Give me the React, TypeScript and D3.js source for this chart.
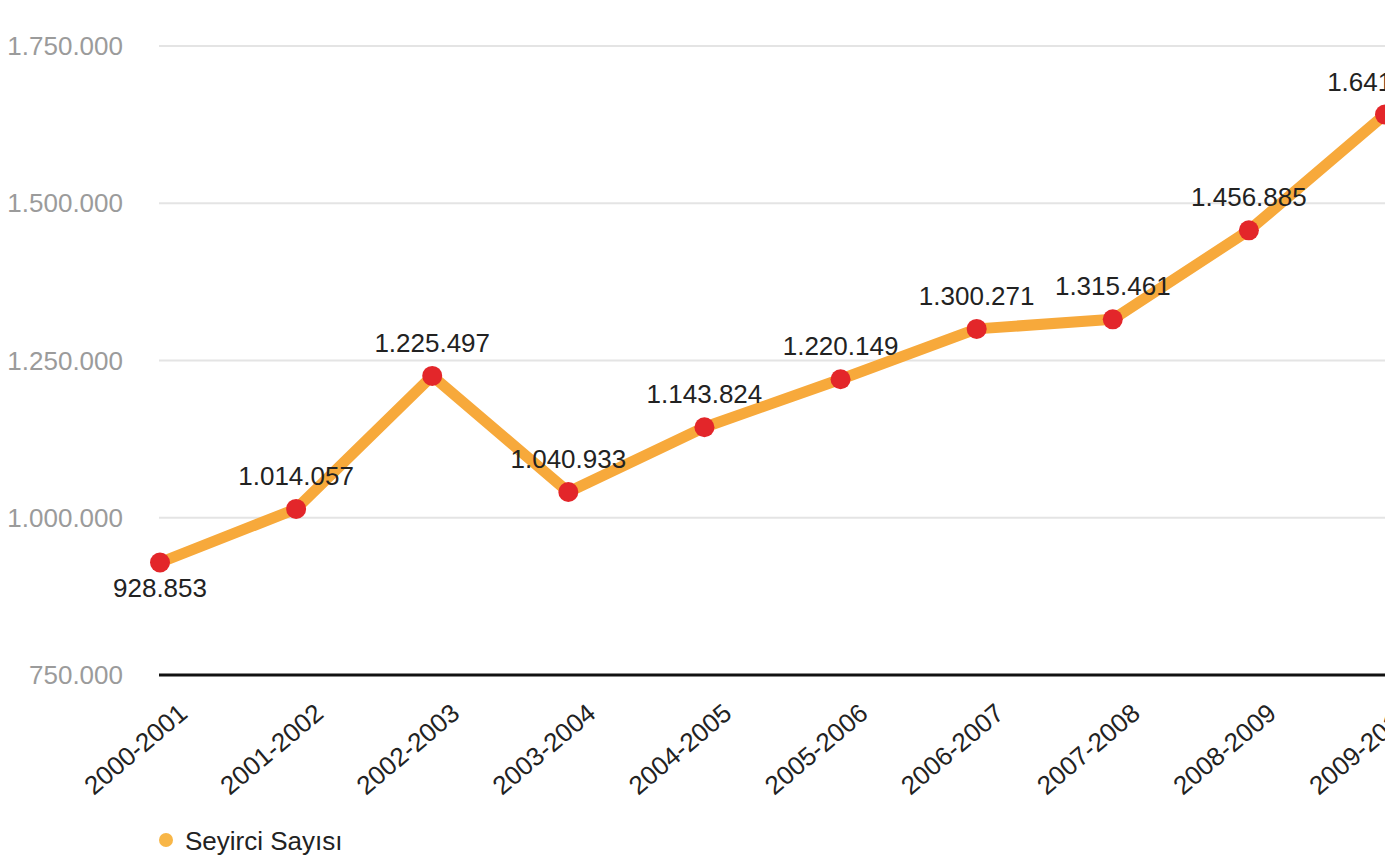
import React from "react";
import * as d3 from "d3";

const seasons = [
  "2000-2001", "2001-2002", "2002-2003", "2003-2004", "2004-2005",
  "2005-2006", "2006-2007", "2007-2008", "2008-2009", "2009-2010",
];
const attendance = [
  928853, 1014057, 1225497, 1040933, 1143824,
  1220149, 1300271, 1315461, 1456885, 1641000,
];
const yTicks = [750000, 1000000, 1250000, 1500000, 1750000];
const seriesName = "Seyirci Sayısı";

const W = 1385;
const H = 861;
const FONT = "'Liberation Sans', Arial, Helvetica, sans-serif";

const fmt = (v: number) => d3.format(",")(v).replace(/,/g, ".");

export default function App() {
  const x = d3.scalePoint<string>().domain(seasons).range([160, 1385]);
  const y = d3.scaleLinear().domain([750000, 1750000]).range([675, 46]);
  const line = d3
    .line<number>()
    .x((_, i) => x(seasons[i]) as number)
    .y((d) => y(d));
  const left = 159;

  return (
    <svg
      width={W}
      height={H}
      style={{ position: "absolute", left: 0, top: 0, display: "block", background: "#fff" }}
      fontFamily={FONT}
    >
      {yTicks.map((t, i) => (
        <g key={t}>
          <line
            x1={left}
            x2={W}
            y1={y(t)}
            y2={y(t)}
            stroke={i === 0 ? "#111" : "#e4e4e4"}
            strokeWidth={i === 0 ? 3 : 2}
          />
          <text
            x={123}
            y={y(t)}
            textAnchor="end"
            dominantBaseline="central"
            fontSize={26}
            fill="#9b9b9b"
          >
            {fmt(t)}
          </text>
        </g>
      ))}
      <path
        d={line(attendance) || ""}
        fill="none"
        stroke="#F7A93B"
        strokeWidth={11}
        strokeLinejoin="round"
      />
      {attendance.map((v, i) => (
        <circle key={i} cx={x(seasons[i])} cy={y(v)} r={10} fill="#E3262A" />
      ))}
      {attendance.map((v, i) => (
        <text
          key={"l" + i}
          x={x(seasons[i])}
          y={y(v) + (i === 0 ? 25 : -33)}
          textAnchor="middle"
          dominantBaseline="central"
          fontSize={26}
          fill="#222"
        >
          {fmt(v)}
        </text>
      ))}
      {seasons.map((s) => (
        <text
          key={s}
          transform={`translate(${(x(s) as number) + 29},716) rotate(-40)`}
          textAnchor="end"
          fontSize={26}
          fill="#222"
        >
          {s}
        </text>
      ))}
      <circle cx={166} cy={840} r={7} fill="#F8B647" />
      <text x={185} y={841} dominantBaseline="central" fontSize={26} fill="#222">
        {seriesName}
      </text>
    </svg>
  );
}
